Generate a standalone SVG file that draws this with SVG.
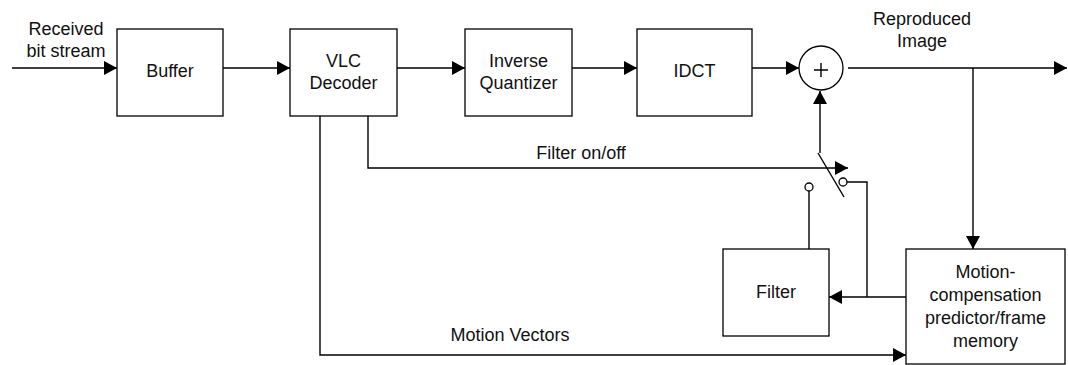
<svg xmlns="http://www.w3.org/2000/svg" width="1068" height="365" viewBox="0 0 1068 365">
  <style>
    .box { fill: #ffffff; stroke: #000000; stroke-width: 1.3; }
    .wire { fill: none; stroke: #000000; stroke-width: 1.4; }
    .lbl { font-family: "Liberation Sans", Arial, sans-serif; font-size: 18px; fill: #111111; text-anchor: middle; }
    .term { fill: #ffffff; stroke: #000000; stroke-width: 1.3; }
  </style>
  <defs>
    <marker id="arrow" markerUnits="userSpaceOnUse" markerWidth="14" markerHeight="14" refX="13" refY="7" orient="auto">
      <path d="M0,0 L13,7 L0,14 z" fill="#000000"/>
    </marker>
  </defs>

  <rect x="0" y="0" width="1068" height="365" fill="#ffffff"/>

  <!-- input label -->
  <text class="lbl" x="66" y="35">Received</text>
  <text class="lbl" x="66" y="57">bit stream</text>

  <g id="buffer">
    <rect class="box" x="117" y="29" width="106" height="87"/>
    <text class="lbl" x="170" y="77">Buffer</text>
  </g>

  <g id="vlc-decoder">
    <rect class="box" x="290" y="29" width="107" height="87"/>
    <text class="lbl" x="343.5" y="67">VLC</text>
    <text class="lbl" x="343.5" y="89">Decoder</text>
  </g>

  <g id="inverse-quantizer">
    <rect class="box" x="465" y="29" width="107" height="87"/>
    <text class="lbl" x="518.5" y="67">Inverse</text>
    <text class="lbl" x="518.5" y="89">Quantizer</text>
  </g>

  <g id="idct">
    <rect class="box" x="637" y="29" width="115" height="87"/>
    <text class="lbl" x="694.5" y="77">IDCT</text>
  </g>

  <g id="adder">
    <circle class="box" cx="821" cy="68" r="22"/>
    <path class="wire" d="M814,70 H828 M821,63 V77" stroke-width="2"/>
  </g>

  <g id="filter">
    <rect class="box" x="723" y="249" width="106" height="87"/>
    <text class="lbl" x="776" y="298">Filter</text>
  </g>

  <g id="mc-predictor">
    <rect class="box" x="906" y="249" width="159" height="115"/>
    <text class="lbl" x="985.5" y="278">Motion-</text>
    <text class="lbl" x="985.5" y="301">compensation</text>
    <text class="lbl" x="985.5" y="324">predictor/frame</text>
    <text class="lbl" x="985.5" y="347">memory</text>
  </g>

  <g id="switch">
    <path class="wire" d="M818,153 L844,197"/>
    <circle class="term" cx="843" cy="182" r="4"/>
    <circle class="term" cx="809" cy="187" r="4"/>
  </g>

  <g id="connectors">
    <path class="wire" d="M12,68 H117" marker-end="url(#arrow)"/>
    <path class="wire" d="M223,68 H290" marker-end="url(#arrow)"/>
    <path class="wire" d="M397,68 H465" marker-end="url(#arrow)"/>
    <path class="wire" d="M572,68 H637" marker-end="url(#arrow)"/>
    <path class="wire" d="M752,68 H799" marker-end="url(#arrow)"/>
    <path class="wire" d="M848,68 H1067" marker-end="url(#arrow)"/>
    <path class="wire" d="M973,68 V249" marker-end="url(#arrow)"/>
    <path class="wire" d="M368,116 V168 H848" marker-end="url(#arrow)"/>
    <path class="wire" d="M320,116 V355 H906" marker-end="url(#arrow)"/>
    <path class="wire" d="M820,153 V91" marker-end="url(#arrow)"/>
    <path class="wire" d="M847,182 H867 V297"/>
    <path class="wire" d="M906,297 H829" marker-end="url(#arrow)"/>
    <path class="wire" d="M809,249 V191"/>
  </g>

  <!-- connector labels -->
  <text class="lbl" x="922" y="25">Reproduced</text>
  <text class="lbl" x="922" y="47">Image</text>
  <text class="lbl" x="581" y="159">Filter on/off</text>
  <text class="lbl" x="510" y="341">Motion Vectors</text>
</svg>
